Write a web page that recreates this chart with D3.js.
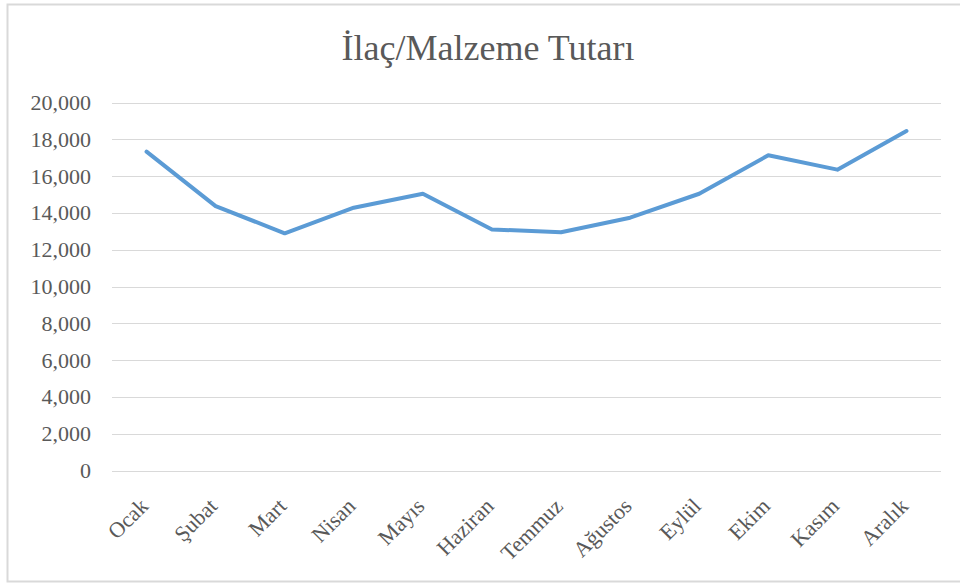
<!DOCTYPE html>
<html>
<head>
<meta charset="utf-8">
<script src="https://cdn.jsdelivr.net/npm/d3@7"></script>
<style>
  html, body { margin: 0; padding: 0; background: #fff; }
  svg { display: block; }
</style>
</head>
<body>
<svg id="chart" width="960" height="583"></svg>
<script>
const title = "İlaç/Malzeme Tutarı";
const months = ["Ocak", "Şubat", "Mart", "Nisan", "Mayıs", "Haziran", "Temmuz", "Ağustos", "Eylül", "Ekim", "Kasım", "Aralık"];
const values = [17330, 14370, 12890, 14280, 15040, 13100, 12950, 13740, 15040, 17130, 16350, 18450];
const yTicks = [0, 2000, 4000, 6000, 8000, 10000, 12000, 14000, 16000, 18000, 20000];

const svg = d3.select("#chart");
const W = 960, H = 583;
const m = { left: 112, right: 19, top: 102.5, bottom: 112.5 };

svg.append("rect")
  .attr("x", 7.5).attr("y", 4.5)
  .attr("width", W).attr("height", 577)
  .attr("fill", "#fff").attr("stroke", "#d9d9d9").attr("stroke-width", 2);

const x = d3.scaleBand().domain(months).range([m.left, W - m.right]);
const y = d3.scaleLinear().domain([0, 20000]).range([H - m.bottom, m.top]);

// gridlines
svg.append("g")
  .selectAll("line").data(yTicks).join("line")
  .attr("x1", m.left).attr("x2", W - m.right)
  .attr("y1", d => Math.round(y(d)) + 0.5).attr("y2", d => Math.round(y(d)) + 0.5)
  .attr("stroke", "#d9d9d9").attr("stroke-width", 1);

// y axis
const yAxis = d3.axisLeft(y).tickValues(yTicks).tickSize(0).tickPadding(0)
  .tickFormat(d3.format(","));
svg.append("g").attr("transform", `translate(${m.left - 21},0)`).call(yAxis)
  .call(g => g.select(".domain").remove())
  .call(g => g.selectAll("text")
    .attr("font-family", "'Liberation Serif', 'Times New Roman', serif")
    .attr("font-size", 22).attr("fill", "#595959"));

// x axis
const xAxis = d3.axisBottom(x).tickSize(0).tickPadding(0);
svg.append("g").attr("transform", `translate(0,${H - m.bottom})`).call(xAxis)
  .call(g => g.select(".domain").remove())
  .call(g => g.selectAll("text")
    .attr("font-family", "'Liberation Serif', 'Times New Roman', serif")
    .attr("font-size", 22).attr("fill", "#595959")
    .attr("text-anchor", "end")
    .attr("y", 0)
    .attr("dy", 0)
    .attr("transform", "translate(3,37) rotate(-45)"));

// line
const line = d3.line().x((d, i) => x(months[i]) + x.bandwidth() / 2).y(d => y(d));
svg.append("path").datum(values)
  .attr("d", line)
  .attr("fill", "none").attr("stroke", "#5b9bd5")
  .attr("stroke-width", 4).attr("stroke-linejoin", "round").attr("stroke-linecap", "round");

// title
svg.append("text")
  .attr("x", 488).attr("y", 60)
  .attr("text-anchor", "middle")
  .attr("font-family", "'Liberation Serif', 'Times New Roman', serif")
  .attr("font-size", 36).attr("fill", "#595959")
  .text(title);
</script>
</body>
</html>
